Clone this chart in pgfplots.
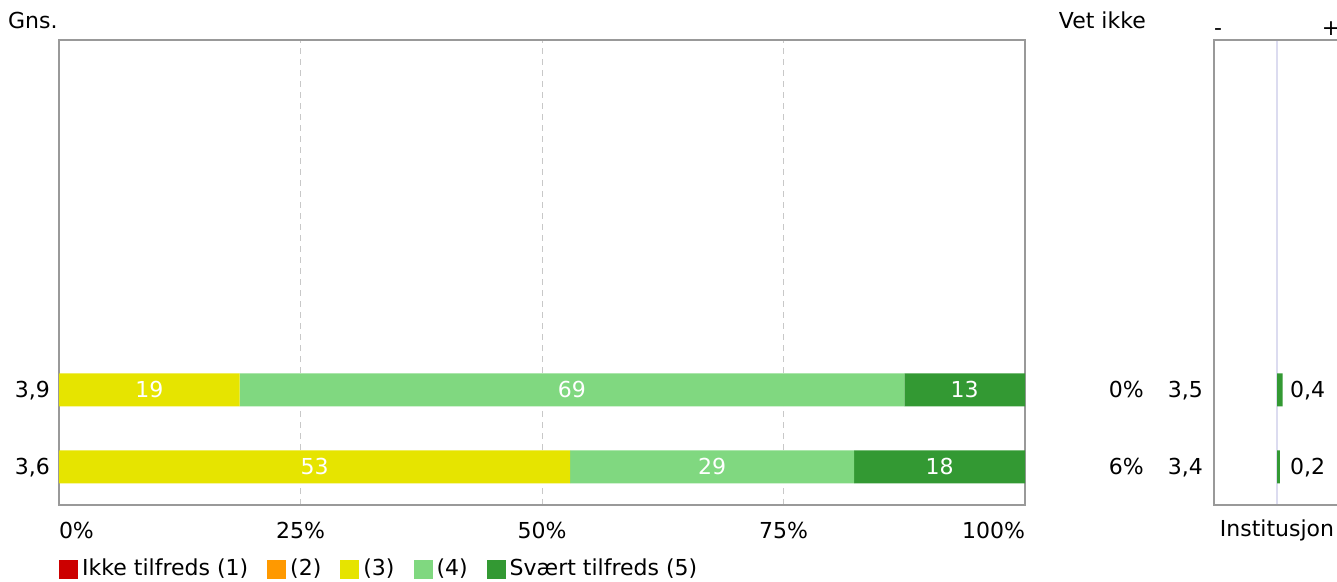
\documentclass[border=0pt]{standalone}
\usepackage{pgfplots}
\pgfplotsset{compat=1.18}
\usepackage{fontspec}
\setmainfont{DejaVu Sans}
\definecolor{c1}{HTML}{CC0000}
\definecolor{c2}{HTML}{FF9900}
\definecolor{c3}{HTML}{E6E400}
\definecolor{c4}{HTML}{80D880}
\definecolor{c5}{HTML}{339933}
\definecolor{framec}{HTML}{999999}
\definecolor{gridc}{HTML}{C8C8C8}
\definecolor{zeroc}{HTML}{DCDCF0}
\begin{document}
\fontsize{22}{26}\selectfont
\begin{tikzpicture}[x=1pt,y=1pt]
\useasboundingbox (0,0) rectangle (1337,581);
% main stacked bars
\begin{axis}[
  at={(59pt,76pt)}, anchor=south west, scale only axis,
  width=966pt, height=465pt,
  xmin=0, xmax=100, ymin=-0.494, ymax=5.545,
  xbar stacked, bar width=33pt,
  axis line style={framec, line width=1.5pt},
  major tick length=0pt,
  xtick={0,25,50,75,100},
  xticklabels={\makebox[0pt][l]{0\%},25\%,50\%,75\%,\makebox[0pt][r]{100\%}},
  xticklabel style={anchor=base, inner sep=0pt, yshift=-33pt},
  xmajorgrids, grid style={gridc, dash pattern=on 6pt off 5pt, line width=1pt},
  ytick={0,1}, yticklabels={{3,6},{3,9}},
  yticklabel style={anchor=base east, inner sep=0pt, xshift=-9pt, yshift=-8pt},
  legend image code/.code={\fill[#1] (0pt,-9.5pt) rectangle (19pt,9.5pt);},
  legend style={at={(0,0)}, anchor=north west, yshift=-52pt, draw=none, fill=none,
    inner sep=0pt, legend columns=-1, nodes={inner sep=2pt},
    /tikz/every odd column/.append style={column sep=2pt},
    /tikz/every even column/.append style={column sep=17pt}},
  legend cell align=left,
]
\addlegendimage{fill=c1, draw=none}\addlegendentry{Ikke tilfreds (1)}
\addlegendimage{fill=c2, draw=none}\addlegendentry{(2)}
\addplot[fill=c3, draw=none] coordinates {(52.9,0) (18.7,1)};
\addlegendentry{(3)}
\addplot[fill=c4, draw=none] coordinates {(29.4,0) (68.8,1)};
\addlegendentry{(4)}
\addplot[fill=c5, draw=none] coordinates {(17.7,0) (12.5,1)};
\addlegendentry{Svært tilfreds (5)}
\end{axis}
% value labels inside bars
\begin{axis}[
  at={(59pt,76pt)}, anchor=south west, scale only axis,
  width=966pt, height=465pt,
  xmin=0, xmax=100, ymin=-0.494, ymax=5.545,
  hide axis,
  every node near coord/.style={anchor=center, text=white, inner sep=0pt},
]
\addplot[draw=none, mark=none, nodes near coords, point meta=explicit symbolic]
  coordinates {(9.35,1) [19] (53.1,1) [69] (93.75,1) [13]
               (26.45,0) [53] (67.6,0) [29] (91.15,0) [18]};
\end{axis}
% right panel
\begin{axis}[
  at={(1214pt,76pt)}, anchor=south west, scale only axis,
  width=126pt, height=465pt,
  xmin=-4.5, xmax=4.5, ymin=-0.494, ymax=5.545,
  axis line style={framec, line width=1.5pt},
  major tick length=0pt,
  xtick={0}, xticklabels={Institusjon},
  xticklabel style={anchor=base, inner sep=0pt, yshift=-31pt},
  xmajorgrids, grid style={zeroc, line width=1.2pt},
  ytick={0,1}, yticklabels={{6\%\hspace{24pt}3,4},{0\%\hspace{24pt}3,5}},
  yticklabel style={anchor=base east, inner sep=0pt, xshift=-11pt, yshift=-8pt},
  every node near coord/.style={anchor=base west, inner sep=0pt, yshift=-8pt},
]
\addplot[xbar, fill=c5, draw=none, bar width=33pt] coordinates {(0.4,1) (0.2,0)};
\addplot[draw=none, mark=none, nodes near coords, point meta=explicit symbolic]
  coordinates {(0.93,1) [0,4] (0.93,0) [0,2]};
\end{axis}
\node[anchor=base west, inner sep=0pt] at (8,552) {Gns.};
\node[anchor=base east, inner sep=0pt] at (1146,552) {Vet ikke};
\node[anchor=base, inner sep=0pt] at (1218,545) {-};
\node[anchor=base, inner sep=0pt] at (1331,545) {+};
\end{tikzpicture}
\end{document}
